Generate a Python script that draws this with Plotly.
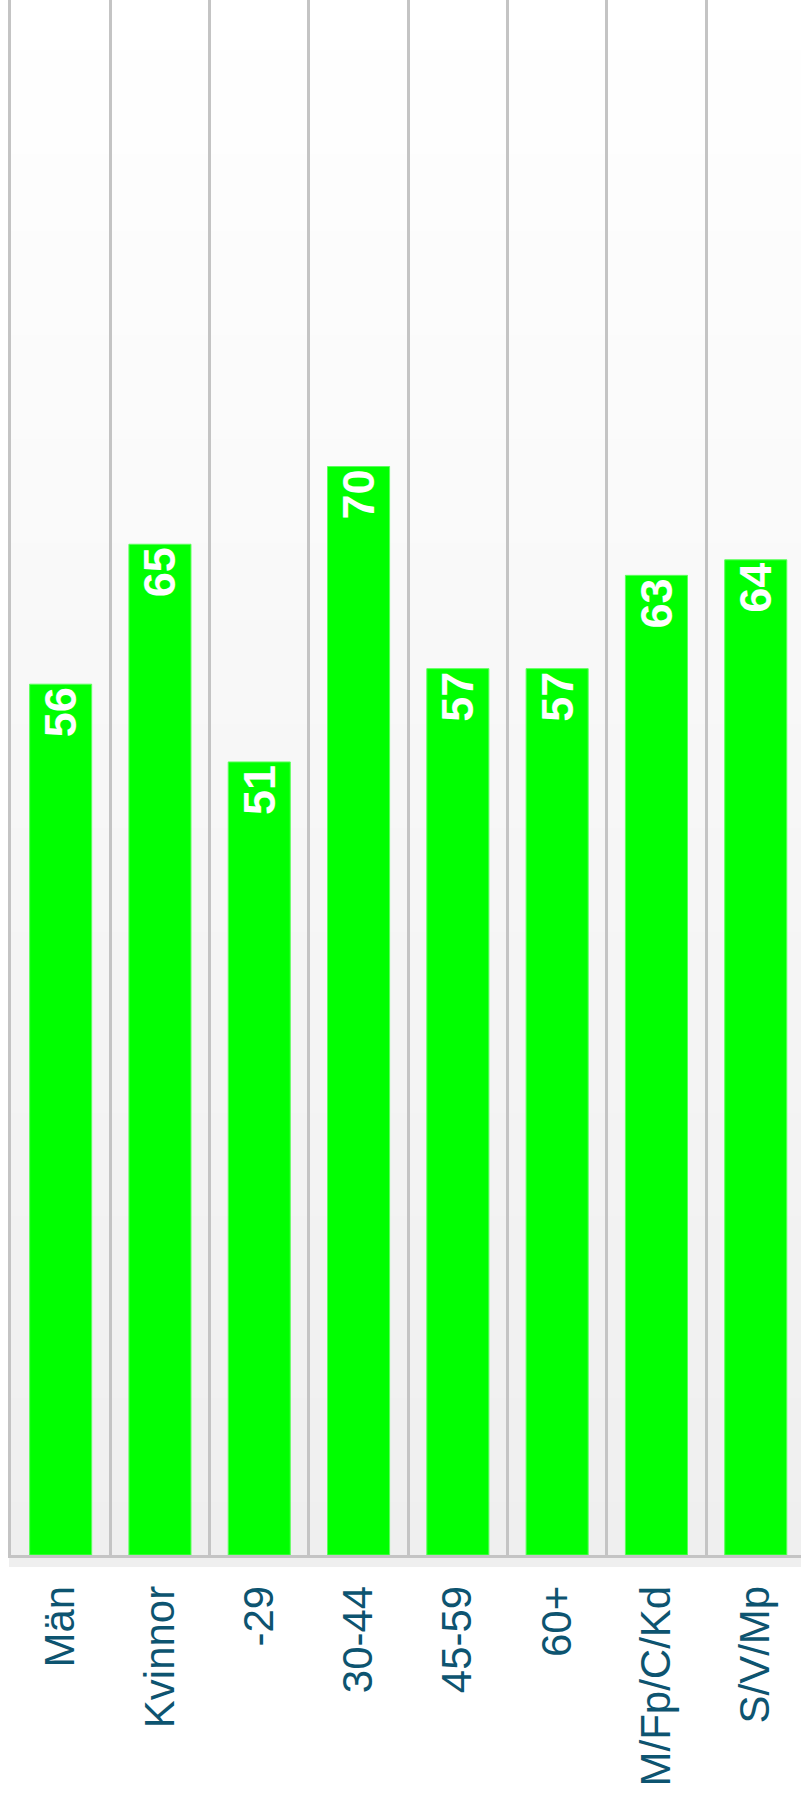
import plotly.graph_objects as go

categories = ["Män", "Kvinnor", "-29", "30-44", "45-59", "60+", "M/Fp/C/Kd", "S/V/Mp"]
values = [56, 65, 51, 70, 57, 57, 63, 64]

W, H = 801, 1799
ML, MT, MB = 11, 0, 244

fig = go.Figure()
fig.add_trace(go.Bar(
    x=categories, y=values,
    marker=dict(color="#00ff00", line=dict(color="#5cff5c", width=1)),
    width=0.625,
    texttemplate="%{y}",
    textposition="inside",
    insidetextanchor="end",
    textangle=-90,
    constraintext="none",
    textfont=dict(family="Liberation Sans, Arial, sans-serif", size=45, color="white", weight="bold"),
    hoverinfo="skip",
))

# vertical gradient background (white -> light grey)
n = 60
shapes = []
for i in range(n):
    t = (i + 0.5) / n
    c = int(round(255 - (255 - 239) * t))
    shapes.append(dict(type="rect", xref="paper", yref="paper",
                       x0=0, x1=1, y0=1 - (i + 1) / n, y1=1 - i / n + 0.001,
                       fillcolor=f"rgb({c},{c},{c})", line=dict(width=0), layer="below"))
plot_h = H - MT - MB
# grey band under the axis line
shapes.append(dict(type="rect", xref="paper", yref="paper",
                   x0=-2 / (W - ML), x1=1, y0=-12 / plot_h, y1=0,
                   fillcolor="#efefef", line=dict(width=0), layer="below"))
fig.update_layout(shapes=shapes)

fig.update_layout(
    width=W, height=H,
    margin=dict(l=ML, r=0, t=MT, b=MB, pad=0),
    paper_bgcolor="white", plot_bgcolor="white",
    showlegend=False,
    xaxis=dict(
        type="category",
        range=[-0.5, -0.5 + (W - ML) / 99.3],
        tickson="boundaries",
        showgrid=True, gridcolor="#c4c4c4", gridwidth=2.5,
        showline=True, linecolor="#c4c4c4", linewidth=3,
        ticks="", tickangle=-90,
        ticklabelstandoff=11,
        tickfont=dict(family="Liberation Sans, Arial, sans-serif", size=42, color="#0d5470"),
        zeroline=False,
    ),
    yaxis=dict(range=[0, 100], showgrid=False, showticklabels=False,
               zeroline=False, showline=True, linecolor="#c4c4c4", linewidth=2.5,
               ticks=""),
)

fig.write_html("out.html", config={"displayModeBar": False},
               post_script="document.body.style.margin='0';")
